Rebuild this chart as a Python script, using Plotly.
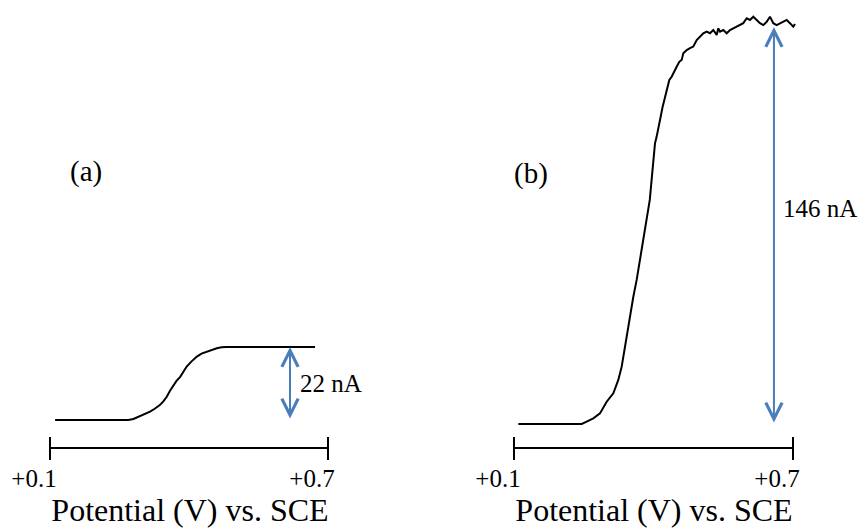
import plotly.graph_objects as go

# ---------------- data ----------------
# Panel (a): potential (V) vs current (nA)
pot_a = [0.111, 0.269, 0.280, 0.294, 0.305, 0.316, 0.326, 0.337, 0.345, 0.352, 0.359,
         0.366, 0.373, 0.381, 0.388, 0.395, 0.405, 0.417, 0.427, 0.438, 0.449, 0.460,
         0.470, 0.481, 0.672]
cur_a = [0.0, 0.0, 0.3, 1.2, 1.8, 2.5, 3.4, 4.5, 5.7, 7.0, 8.8,
         10.5, 11.8, 13.0, 14.6, 16.1, 17.6, 19.1, 20.0, 20.6, 21.2, 21.6,
         21.9, 22.0, 22.0]

# Panel (b)
pot_b = [0.1093, 0.2456, 0.2563, 0.2706, 0.2849, 0.2993, 0.3136, 0.3243, 0.3316, 0.3387,
         0.3423, 0.3495, 0.3566, 0.3638, 0.3746, 0.3817, 0.3920, 0.3946, 0.3975, 0.3996,
         0.4032, 0.4068, 0.4104, 0.4154, 0.4197, 0.4247, 0.4283, 0.4340, 0.4391, 0.4441,
         0.4498, 0.4555, 0.4606, 0.4641, 0.4714, 0.4785, 0.4856, 0.4929, 0.5000, 0.5071,
         0.5144, 0.5215, 0.5286, 0.5359, 0.5394, 0.5430, 0.5502, 0.5574, 0.5645, 0.5716,
         0.5789, 0.5860, 0.5931, 0.6004, 0.6075, 0.6146, 0.6219, 0.6290, 0.6361, 0.6434,
         0.6505, 0.6576, 0.6649, 0.6720, 0.6791, 0.6864, 0.6935, 0.7006, 0.7043]
cur_b = [0.0, 0.0, 0.9, 2.1, 3.9, 8.2, 11.3, 16.2, 21.1, 28.4,
         33.4, 40.7, 46.8, 53.0, 64.0, 72.6, 82.4, 87.3, 92.2, 98.3,
         103.2, 105.7, 109.3, 113.0, 116.7, 120.4, 122.8, 126.5, 127.7, 129.6,
         131.4, 133.2, 133.9, 136.3, 137.5, 138.2, 138.8, 141.2, 142.4, 143.7,
         144.3, 143.7, 144.9, 143.1, 145.5, 144.3, 144.9, 143.7, 144.9, 145.5,
         146.1, 146.7, 147.4, 149.2, 148.6, 149.8, 148.6, 147.4, 146.7, 147.9,
         149.8, 147.4, 146.7, 147.4, 147.9, 148.6, 147.4, 146.1, 147.1]

tick_vals = [0.1, 0.7]
tick_text = ["+0.1", "+0.7"]
panel_labels = ["(a)", "(b)"]
limit_currents = [22, 146]          # nA
limit_texts = ["22 nA", "146 nA"]
arrow_pot = [0.618, 0.659]          # V, where the height arrows are drawn
x_title = "Potential (V) vs. SCE"

# ---------------- layout helpers ----------------
W, H = 862, 531
FONT = "Liberation Serif"
BLUE = "#4a7ebb"


def x_range(dom_px, v0, p0, v1, p1):
    s = (p1 - p0) / (v1 - v0)
    return [v0 + (dom_px[0] - p0) / s, v0 + (dom_px[1] - p0) / s]


def y_range(p_zero, p_top, val_top):
    s = (p_zero - p_top) / val_top
    return [-(H - p_zero) / s, p_zero / s]


dom_a = (0, 380)
dom_b = (446, 862)
xr_a = x_range(dom_a, 0.1, 50, 0.7, 328)
xr_b = x_range(dom_b, 0.1, 514, 0.7, 793)
yr_a = y_range(420, 347, limit_currents[0])
yr_b = y_range(424, 27, limit_currents[1])

fig = go.Figure()
fig.add_trace(go.Scatter(x=pot_a, y=cur_a, mode="lines", xaxis="x", yaxis="y",
                         line=dict(color="black", width=2), showlegend=False, hoverinfo="skip"))
fig.add_trace(go.Scatter(x=pot_b, y=cur_b, mode="lines", xaxis="x2", yaxis="y2",
                         line=dict(color="black", width=2), showlegend=False, hoverinfo="skip"))

axis_y_px = 448
common_x = dict(anchor="free", position=1 - axis_y_px / H, showgrid=False, zeroline=False,
                showline=False, ticks="", tickvals=tick_vals, ticktext=tick_text,
                tickfont=dict(family=FONT, size=25, color="black"),
                ticklabelstandoff=13,
                title=dict(text=x_title, font=dict(family=FONT, size=32, color="black"),
                           standoff=6),
                fixedrange=True)
fig.update_layout(
    width=W, height=H, margin=dict(l=0, r=0, t=0, b=0),
    paper_bgcolor="white", plot_bgcolor="white",
    font=dict(family=FONT),
    xaxis=dict(domain=[dom_a[0] / W, dom_a[1] / W], range=xr_a, ticklabelshift=-16, **common_x),
    xaxis2=dict(domain=[dom_b[0] / W, dom_b[1] / W], range=xr_b, ticklabelshift=-16, **common_x),
    yaxis=dict(domain=[0, 1], range=yr_a, visible=False, anchor="free", position=0, fixedrange=True),
    yaxis2=dict(domain=[0, 1], range=yr_b, visible=False, anchor="free", position=0.5, fixedrange=True),
)

shapes = []
annotations = []
for xref, yref in (("x", "y"), ("x2", "y2")):
    # axis bar between the two tick values
    shapes.append(dict(type="line", xref=xref, yref="paper", x0=tick_vals[0], x1=tick_vals[-1],
                       y0=1 - axis_y_px / H, y1=1 - axis_y_px / H, line=dict(color="black", width=2)))
    for tv in tick_vals:
        shapes.append(dict(type="line", xref=xref, yref="paper", x0=tv, x1=tv,
                           y0=1 - 437 / H, y1=1 - 460 / H, line=dict(color="black", width=2)))

for i, (xref, yref) in enumerate((("x", "y"), ("x2", "y2"))):
    annotations.append(dict(x=arrow_pot[i], y=limit_currents[i], ax=arrow_pot[i], ay=0,
                            xref=xref, yref=yref, axref=xref, ayref=yref, text="",
                            showarrow=True, arrowhead=5, startarrowhead=5, arrowside="end+start",
                            arrowsize=1.6, startarrowsize=1.6, arrowwidth=2, arrowcolor=BLUE))
annotations.append(dict(x=arrow_pot[0], y=limit_currents[0] / 2, xref="x", yref="y",
                        text=limit_texts[0], showarrow=False, xanchor="left", xshift=8,
                        font=dict(family=FONT, size=25, color="black")))
annotations.append(dict(x=arrow_pot[1], y=limit_currents[1] / 2, xref="x2", yref="y2",
                        text=limit_texts[1], showarrow=False, xanchor="left", xshift=7, yshift=17,
                        font=dict(family=FONT, size=25, color="black")))
for lab, (px, py) in zip(panel_labels, ((68, 153), (531, 155))):
    annotations.append(dict(x=px / W, y=1 - py / H, xref="paper", yref="paper", text=lab,
                            showarrow=False, font=dict(family=FONT, size=29, color="black")))

fig.update_layout(shapes=shapes, annotations=annotations)
fig.write_html("out.html")
